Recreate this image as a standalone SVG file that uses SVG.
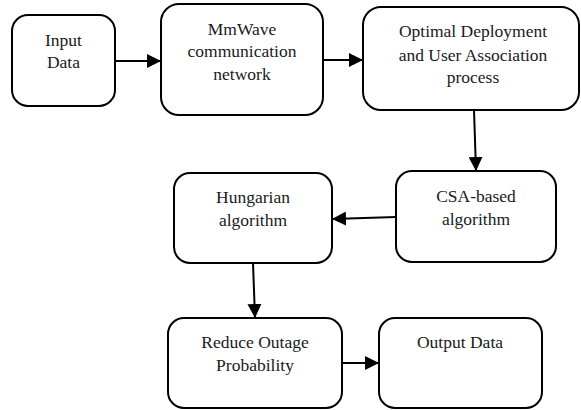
<svg xmlns="http://www.w3.org/2000/svg" width="581" height="410" viewBox="0 0 581 410">
  <style>
    .box { fill: #ffffff; stroke: #000000; stroke-width: 2; }
    .lbl { font-family: "Liberation Serif", "Times New Roman", serif; font-size: 17.5px; fill: #1a1a1a; text-anchor: middle; }
    .edge { stroke: #000000; stroke-width: 2; fill: none; marker-end: url(#arrow); }
  </style>
  <defs>
    <marker id="arrow" viewBox="0 0 14 14" refX="14" refY="7" markerWidth="14" markerHeight="14" markerUnits="userSpaceOnUse" orient="auto">
      <path d="M0,0 L14,7 L0,14 z" fill="#000000"/>
    </marker>
  </defs>
  <rect width="581" height="410" fill="#ffffff"/>

  <!-- flow arrows between the process steps -->
  <g id="connectors">
    <line class="edge" x1="115" y1="61" x2="161" y2="61"/>
    <line class="edge" x1="323" y1="60" x2="363" y2="60"/>
    <line class="edge" x1="474" y1="110" x2="476" y2="171"/>
    <line class="edge" x1="396" y1="217" x2="332" y2="219"/>
    <line class="edge" x1="253" y1="263" x2="255" y2="318"/>
    <line class="edge" x1="342" y1="363" x2="379" y2="363"/>
  </g>

  <g id="input-data">
    <rect class="box" x="12" y="15" width="103" height="91" rx="16"/>
    <text class="lbl" x="63.5" y="46">Input</text>
    <text class="lbl" x="63.5" y="68">Data</text>
  </g>

  <g id="mmwave-network">
    <rect class="box" x="161" y="4" width="162" height="111" rx="18"/>
    <text class="lbl" x="242" y="35">MmWave</text>
    <text class="lbl" x="242" y="57">communication</text>
    <text class="lbl" x="242" y="80">network</text>
  </g>

  <g id="deployment-association">
    <rect class="box" x="363" y="7" width="216" height="103" rx="18"/>
    <text class="lbl" x="473" y="37">Optimal Deployment</text>
    <text class="lbl" x="473" y="61">and User Association</text>
    <text class="lbl" x="473" y="83">process</text>
  </g>

  <g id="csa-algorithm">
    <rect class="box" x="396" y="171" width="160" height="91" rx="16"/>
    <text class="lbl" x="476" y="202">CSA-based</text>
    <text class="lbl" x="476" y="225">algorithm</text>
  </g>

  <g id="hungarian-algorithm">
    <rect class="box" x="174" y="173" width="158" height="90" rx="16"/>
    <text class="lbl" x="253" y="203">Hungarian</text>
    <text class="lbl" x="253" y="226">algorithm</text>
  </g>

  <g id="reduce-outage">
    <rect class="box" x="168" y="318" width="174" height="90" rx="16"/>
    <text class="lbl" x="255" y="348">Reduce Outage</text>
    <text class="lbl" x="255" y="371">Probability</text>
  </g>

  <g id="output-data">
    <rect class="box" x="379" y="318" width="163" height="90" rx="16"/>
    <text class="lbl" x="460" y="348">Output Data</text>
  </g>
</svg>
